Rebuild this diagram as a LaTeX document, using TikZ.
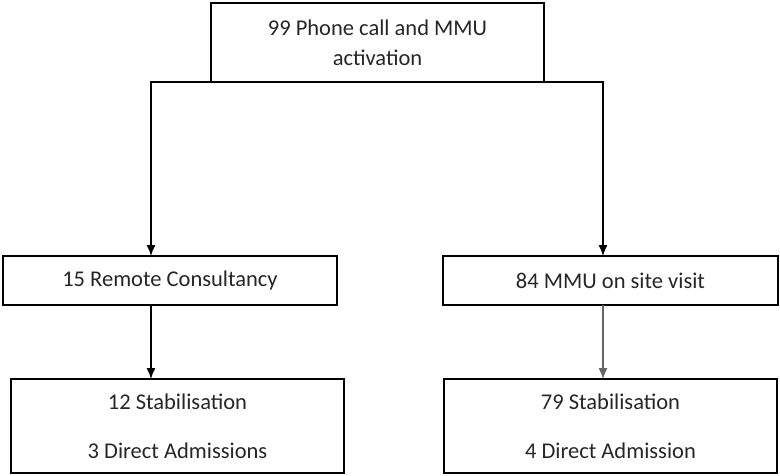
\documentclass[tikz,border=0pt]{standalone}
\usepackage{fontspec}
\setmainfont{Carlito}
\usetikzlibrary{arrows.meta}
\usetikzlibrary{positioning}

\begin{document}
\begin{tikzpicture}[x=1pt,y=1pt,->,>={Latex[length=11pt,width=9pt]},line width=1.3pt,
                box/.style={rectangle,draw,inner sep=0pt,outer sep=0pt,align=center,
                font=\fontsize{22.5}{30}\selectfont,text=black!85}]
        \useasboundingbox (0,0) rectangle (780,475);

        \node[box,minimum width=333,minimum height=79] (call) at (377.5,432.5) {99 Phone call and MMU\\activation};
        \node[box,minimum width=334,minimum height=49] (remote) at (170,194.5) {15 Remote Consultancy};
        \node[box,minimum width=335,minimum height=49] (site) at (610.5,194.5) {84 MMU on site visit};
        \node[box,minimum width=333,minimum height=94] (stabL) at (177.5,49) {12 Stabilisation\\[19pt]3 Direct Admissions};
        \node[box,minimum width=333,minimum height=94] (stabR) at (610.5,49) {79 Stabilisation\\[19pt]4 Direct Admission};

          \draw (call.south) -| ([xshift=-19pt]remote.north);
          \draw (call.south) -| ([xshift=-7.5pt]site.north);
          \draw ([xshift=-19pt]remote.south) -- ([xshift=-26.5pt]stabL.north);
          \draw[black!60] ([xshift=-7.5pt]site.south) -- ([xshift=-7.5pt]stabR.north);

\end{tikzpicture}
\end{document}
